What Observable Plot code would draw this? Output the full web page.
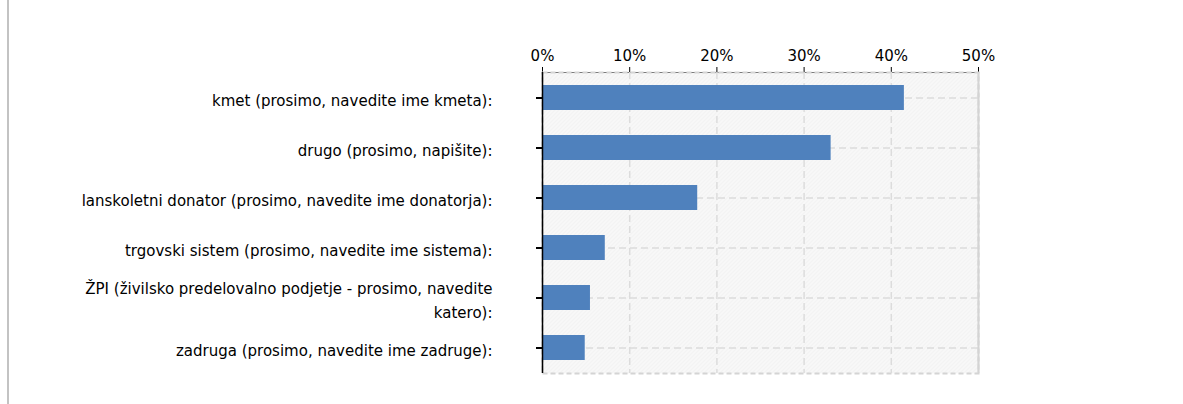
<!DOCTYPE html>
<html>
<head>
<meta charset="utf-8">
<script src="https://cdn.jsdelivr.net/npm/d3@7"></script>
<script src="https://cdn.jsdelivr.net/npm/@observablehq/plot@0.6"></script>
<style>
  html, body { margin: 0; padding: 0; background: #fff; }
  #wrap { position: relative; width: 1183px; height: 404px; }
  #edge { position: absolute; left: 7px; top: 0; width: 2px; height: 404px; background: #c3c3c3; }
  #chart { position: absolute; left: 0; top: 0; }
</style>
</head>
<body>
<div id="wrap"><div id="edge"></div><div id="chart"></div></div>
<script>
const categories = [
  "kmet (prosimo, navedite ime kmeta):",
  "drugo (prosimo, napišite):",
  "lanskoletni donator (prosimo, navedite ime donatorja):",
  "trgovski sistem (prosimo, navedite ime sistema):",
  "ŽPI (živilsko predelovalno podjetje - prosimo, navedite katero):",
  "zadruga (prosimo, navedite ime zadruge):"
];
const values = [41.5, 33.1, 17.8, 7.2, 5.5, 4.9];
const xTicks = [0, 10, 20, 30, 40, 50];

const data = categories.map((c, i) => ({category: c, value: values[i]}));
const wrapLabel = (d) => d.replace(" katero):", "\nkatero):");

const svg = Plot.plot({
  width: 1183,
  height: 404,
  marginLeft: 542,
  marginRight: 205,
  marginTop: 72,
  marginBottom: 31,
  style: {fontFamily: "DejaVu Sans, Verdana, sans-serif", fontSize: "15px", color: "#000", background: "transparent"},
  x: {domain: [0, 50], axis: "top", ticks: xTicks, tickFormat: d => d + "%", tickSize: 6, tickPadding: 6, line: true, label: null},
  y: {domain: categories, paddingInner: 0.5, paddingOuter: 0.25},
  marks: [
    Plot.frame({fill: "url(#hatch)", stroke: "#d4d4d4", strokeWidth: 2, strokeDasharray: "5,3"}),
    Plot.gridX(xTicks, {stroke: "#dcdcdc", strokeOpacity: 1, strokeWidth: 1.5, strokeDasharray: "7,4"}),
    Plot.gridY({stroke: "#dcdcdc", strokeOpacity: 1, strokeWidth: 1.5, strokeDasharray: "7,4"}),
    Plot.ruleX([50], {stroke: "#d4d4d4", strokeWidth: 2}),
    Plot.barX(data, {y: "category", x: "value", fill: "#4f81bd"}),
    Plot.ruleX([0], {stroke: "#000", strokeWidth: 1.5}),
    Plot.axisY({tickSize: 6, tickPadding: 44, strokeWidth: 2, lineHeight: 1.6, tickFormat: wrapLabel, label: null, fill: "#000"})
  ]
});

d3.select(svg).insert("defs", ":first-child").html(
  '<pattern id="hatch" patternUnits="userSpaceOnUse" width="4" height="4">' +
  '<rect width="4" height="4" fill="#f8f8f8"></rect>' +
  '<path d="M-1,1 l2,-2 M0,4 l4,-4 M3,5 l2,-2" stroke="#eeeeee" stroke-width="1"></path>' +
  '</pattern>'
);

document.getElementById("chart").appendChild(svg);
</script>
</body>
</html>
